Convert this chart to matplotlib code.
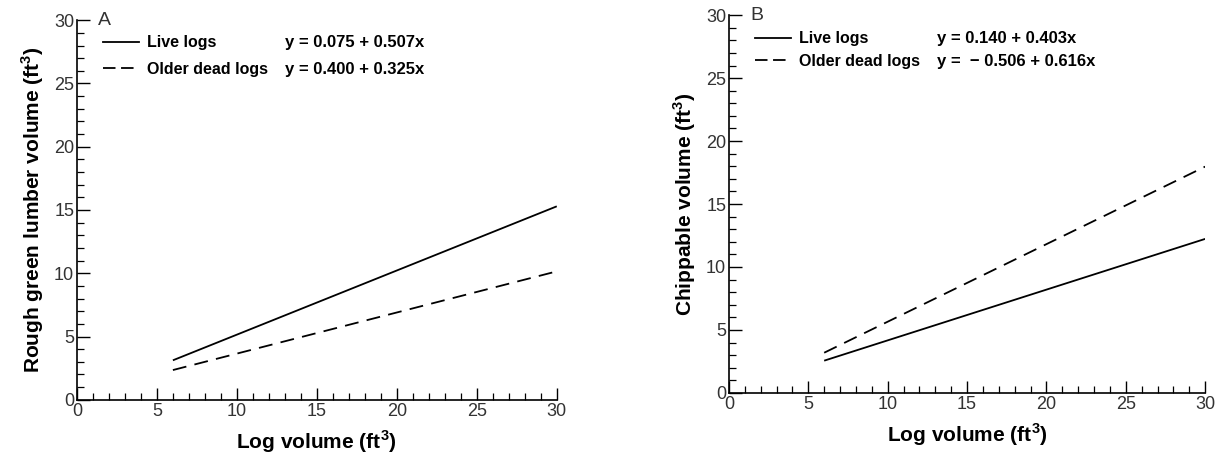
import matplotlib
matplotlib.use("Agg")
import matplotlib.pyplot as plt
from matplotlib.lines import Line2D
from matplotlib.ticker import MultipleLocator

plt.rcParams['font.family'] = ['Liberation Sans', 'DejaVu Sans']
plt.rcParams['lines.scale_dashes'] = False
plt.rcParams['mathtext.fontset'] = 'custom'
plt.rcParams['mathtext.rm'] = 'Liberation Sans'

# Data
x_range = [6, 30]
a_live_y = [3.12, 15.29]
a_dead_y = [2.35, 10.15]
b_live_y = [2.56, 12.23]
b_dead_y = [3.19, 17.97]
series_names = ["Live logs", "Older dead logs"]
a_equations = ["y = 0.075 + 0.507x", "y = 0.400 + 0.325x"]
b_equations = ["y = 0.140 + 0.403x", "y =  \u2212 0.506 + 0.616x"]
panel_letters = ["A", "B"]
xlabel = "Log volume (ft$^{\\mathregular{3}}$)"
a_ylabel = "Rough green lumber volume (ft$^{\\mathregular{3}}$)"
b_ylabel = "Chippable volume (ft$^{\\mathregular{3}}$)"
xticks = [0, 5, 10, 15, 20, 25, 30]
yticks = [0, 5, 10, 15, 20, 25, 30]

DASH = (0, (10, 6))
fig = plt.figure(figsize=(12.21, 4.59), dpi=100)
axA = fig.add_axes([0.063, 0.129, 0.393, 0.827])
axB = fig.add_axes([0.597, 0.144, 0.390, 0.823])


def style(ax, ylab, letter, live, dead, eqs, leg_x, eq_x, leg_y, spacing):
    ax.plot(x_range, live, color='black', lw=1.3, solid_capstyle='butt')
    ax.plot(x_range, dead, color='black', lw=1.3, linestyle=DASH)
    ax.set_xlim(0, 30)
    ax.set_ylim(0, 30)
    ax.set_xticks(xticks)
    ax.set_yticks(yticks)
    ax.xaxis.set_minor_locator(MultipleLocator(1))
    ax.yaxis.set_minor_locator(MultipleLocator(1))
    for s in ['top', 'right']:
        ax.spines[s].set_visible(False)
    for s in ['left', 'bottom']:
        ax.spines[s].set_linewidth(1.2)
    ax.tick_params(which='major', direction='in', length=9, width=1.0,
                   labelsize=13, labelcolor='#333333', pad=2)
    ax.tick_params(which='minor', direction='in', length=5, width=0.9)
    ax.set_xlabel(xlabel, fontsize=15, fontweight='bold', labelpad=6)
    ax.set_ylabel(ylab, fontsize=15, fontweight='bold', labelpad=6)
    ax.text(leg_x - 0.01, 1.0, letter, transform=ax.transAxes, fontsize=14,
            color='#333333', va='center', ha='left')
    handles = [Line2D([], [], color='black', lw=1.3),
               Line2D([], [], color='black', lw=1.3, linestyle=(0, (9, 4)))]
    leg1 = ax.legend(handles, series_names, loc='upper left',
                     bbox_to_anchor=(leg_x, leg_y), frameon=False,
                     handlelength=2.25, handletextpad=0.5,
                     labelspacing=spacing, borderaxespad=0, borderpad=0,
                     prop={'size': 11.5, 'weight': 'bold'})
    ax.add_artist(leg1)
    empty = [Line2D([], [], alpha=0), Line2D([], [], alpha=0)]
    ax.legend(empty, eqs, loc='upper left', bbox_to_anchor=(eq_x, leg_y),
              frameon=False, handlelength=0, handletextpad=0,
              labelspacing=spacing, borderaxespad=0, borderpad=0,
              prop={'size': 12, 'weight': 'bold'})


style(axA, a_ylabel, panel_letters[0], a_live_y, a_dead_y, a_equations,
      0.054, 0.433, 0.96, 0.72)
style(axB, b_ylabel, panel_letters[1], b_live_y, b_dead_y, b_equations,
      0.055, 0.437, 0.957, 0.45)

fig.savefig("out.png", dpi=100)
